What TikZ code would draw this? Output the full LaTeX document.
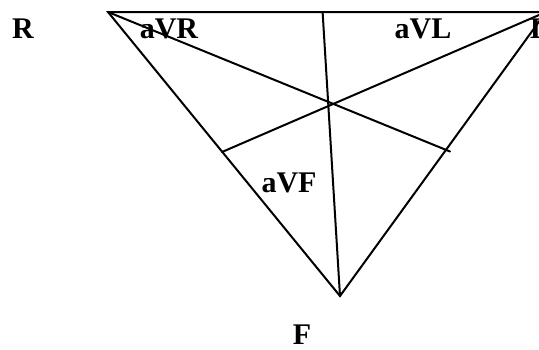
\documentclass[tikz,border=0pt]{standalone}
\usepackage{fontspec}
\setmainfont{Liberation Serif}
\begin{document}
\begin{tikzpicture}[x=1pt,y=-1pt,
  edge/.style={line width=2pt,line cap=round},
  lbl/.style={font=\bfseries\fontsize{30}{32}\selectfont,inner sep=0pt,anchor=base}]
\useasboundingbox (0,0) rectangle (539,349);
\clip (0,0) rectangle (539,349);
% vertices
\coordinate (VR) at (108,12);
\coordinate (VL) at (546,12);
\coordinate (VF) at (340,296);
% feet of the lines
\coordinate (FT) at (322.6,12);
\coordinate (FLs) at (222,152);
\coordinate (FRs) at (450,151.5);
% triangle
\draw[edge] (VR) -- (VL) -- (VF) -- cycle;
% inner lines
\draw[edge] (VR) -- (FRs);
\draw[edge] (VL) -- (FLs);
\draw[edge] (VF) -- (FT);
% labels
\node[lbl] (R) at (23,38) {R};
\node[lbl] (aVR) at (169,38) {aVR};
\node[lbl] (aVL) at (423,38) {aVL};
\node[lbl,anchor=base west] (L) at (530,38) {L};
\node[lbl] (aVF) at (289,192) {aVF};
\node[lbl] (F) at (302,344) {F};
\end{tikzpicture}
\end{document}
